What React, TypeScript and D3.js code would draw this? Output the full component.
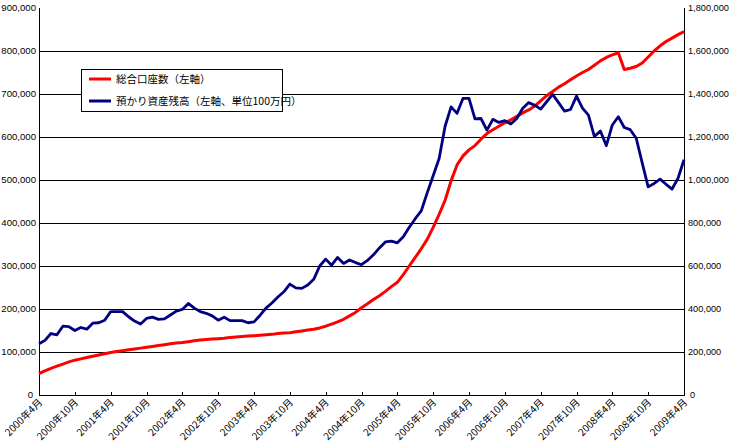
import React from "react";
import * as d3 from "d3";

// Monthly categories 2000年4月 .. 2009年4月 (109 months)
const monthCount = 109;

// Tick labels every 6 months
const tickLabels = [
  "2000年4月", "2000年10月", "2001年4月", "2001年10月", "2002年4月", "2002年10月",
  "2003年4月", "2003年10月", "2004年4月", "2004年10月", "2005年4月", "2005年10月",
  "2006年4月", "2006年10月", "2007年4月", "2007年10月", "2008年4月", "2008年10月",
  "2009年4月",
];

const leftTicks = [0, 100000, 200000, 300000, 400000, 500000, 600000, 700000, 800000, 900000];
const rightTicks = [0, 200000, 400000, 600000, 800000, 1000000, 1200000, 1400000, 1600000, 1800000];

// 総合口座数 (left axis)
const accounts = [
  50000, 56000, 62000, 67000, 72000, 77000, 81000, 84000, 87000, 90000,
  93000, 96000, 99000, 101000, 103000, 105000, 107000, 109000, 111000, 113000,
  115000, 117000, 119000, 121000, 122000, 124000, 126000, 128000, 129000, 130000,
  131000, 132000, 134000, 135000, 136000, 137000, 138000, 139000, 140000, 141000,
  143000, 144000, 145000, 147000, 149000, 151000, 153000, 156000, 160000, 165000,
  170000, 176000, 184000, 192000, 203000, 212000, 222000, 231000, 241000, 252000,
  262000, 280000, 300000, 320000, 340000, 362000, 390000, 420000, 453000, 498000,
  535000, 556000, 570000, 580000, 595000, 608000, 617000, 625000, 633000, 640000,
  648000, 656000, 663000, 672000, 684000, 696000, 706000, 716000, 724000, 733000,
  742000, 750000, 757000, 767000, 777000, 785000, 791000, 796000, 757000, 760000,
  764000, 772000, 786000, 800000, 812000, 822000, 830000, 838000, 845000,
];

// 預かり資産残高 (right axis, 100万円)
const assets = [
  238000, 254000, 286000, 280000, 320000, 318000, 300000, 314000, 306000, 334000,
  336000, 348000, 388000, 388000, 388000, 364000, 344000, 330000, 356000, 362000,
  352000, 354000, 372000, 390000, 398000, 426000, 404000, 388000, 380000, 368000,
  348000, 362000, 346000, 346000, 346000, 336000, 340000, 370000, 404000, 428000,
  456000, 480000, 516000, 498000, 496000, 512000, 538000, 600000, 632000, 604000,
  640000, 612000, 628000, 616000, 606000, 626000, 652000, 684000, 712000, 716000,
  708000, 736000, 780000, 820000, 856000, 940000, 1020000, 1100000, 1250000, 1340000,
  1310000, 1380000, 1380000, 1284000, 1286000, 1232000, 1282000, 1268000, 1276000, 1260000,
  1286000, 1334000, 1360000, 1348000, 1330000, 1364000, 1398000, 1360000, 1320000, 1328000,
  1390000, 1334000, 1302000, 1202000, 1228000, 1160000, 1256000, 1294000, 1244000, 1234000,
  1194000, 1080000, 968000, 984000, 1004000, 980000, 958000, 1008000, 1094000,
];

const seriesNames = ["総合口座数（左軸）", "預かり資産残高（左軸、単位100万円）"];
const seriesColors = ["#ff0000", "#000080"];

const W = 730;
const H = 445;
const FONT = "'Noto Sans CJK JP', 'Noto Sans', sans-serif";
const NUMFONT = "'Liberation Sans', Arial, sans-serif";

export default function App() {
  const x = d3.scaleLinear().domain([0, monthCount - 1]).range([39, 684]);
  const yL = d3.scaleLinear().domain([0, 900000]).range([395, 8]);
  const yR = d3.scaleLinear().domain([0, 1800000]).range([395, 8]);
  const fmt = d3.format(",");

  const lineL = d3
    .line<number>()
    .x((_, i) => x(i))
    .y((d) => yL(d));
  const lineR = d3
    .line<number>()
    .x((_, i) => x(i))
    .y((d) => yR(d));

  const tickIdx = tickLabels.map((_, i) => i * 6);

  return (
    <svg
      width={W}
      height={H}
      style={{ position: "absolute", left: 0, top: 0, background: "#fff" }}
      fontFamily={FONT}
    >
      <rect x={0} y={0} width={W} height={H} fill="#fff" />
      {/* gridlines */}
      {leftTicks
        .filter((t) => t > 0 && t < 900000)
        .map((t) => (
          <line
            key={"g" + t}
            x1={x(0)}
            x2={x(monthCount - 1)}
            y1={Math.round(yL(t)) + 0.5}
            y2={Math.round(yL(t)) + 0.5}
            stroke="#000"
            strokeWidth={1}
          />
        ))}
      {/* axes */}
      <line x1={39.5} x2={39.5} y1={8} y2={395.5} stroke="#000" />
      <line x1={684.5} x2={684.5} y1={8} y2={395.5} stroke="#000" />
      <line x1={39} x2={685} y1={395.5} y2={395.5} stroke="#000" />
      {tickIdx.map((i) => (
        <line
          key={"t" + i}
          x1={Math.round(x(i)) + 0.5}
          x2={Math.round(x(i)) + 0.5}
          y1={392}
          y2={395}
          stroke="#000"
        />
      ))}
      {/* left labels */}
      {leftTicks.map((t) => (
        <text
          key={"l" + t}
          x={t === 0 ? 33 : 36}
          y={yL(t)}
          dy="0.35em"
          textAnchor="end"
          fontSize={9.6}
          fontFamily={NUMFONT}
          fill="#000"
        >
          {fmt(t)}
        </text>
      ))}
      {/* right labels */}
      {rightTicks.map((t) => (
        <text
          key={"r" + t}
          x={t === 0 ? 690 : 688}
          y={yR(t)}
          dy="0.35em"
          textAnchor="start"
          fontSize={9.2}
          fontFamily={NUMFONT}
          fill="#000"
        >
          {fmt(t)}
        </text>
      ))}
      {/* x labels */}
      {tickLabels.map((lab, k) => (
        <text
          key={"x" + k}
          transform={`translate(${x(tickIdx[k]) + 4},${403}) rotate(-45)`}
          textAnchor="end"
          fontSize={10}
          fill="#000"
        >
          {lab}
        </text>
      ))}
      {/* series */}
      <path d={lineL(accounts) || ""} fill="none" stroke={seriesColors[0]} strokeWidth={3} strokeLinejoin="round" />
      <path d={lineR(assets) || ""} fill="none" stroke={seriesColors[1]} strokeWidth={2.8} strokeLinejoin="round" />
      {/* legend */}
      <rect x={81.5} y={69.5} width={201} height={42} fill="#fff" stroke="#000" />
      {seriesNames.map((n, i) => (
        <g key={n} transform={`translate(0,${79 + i * 22})`}>
          <line x1={89} x2={111} y1={0} y2={0} stroke={seriesColors[i]} strokeWidth={3} />
          <text x={116} y={0} dy="0.35em" fontSize={10.5} fill="#000">
            {n}
          </text>
        </g>
      ))}
    </svg>
  );
}
